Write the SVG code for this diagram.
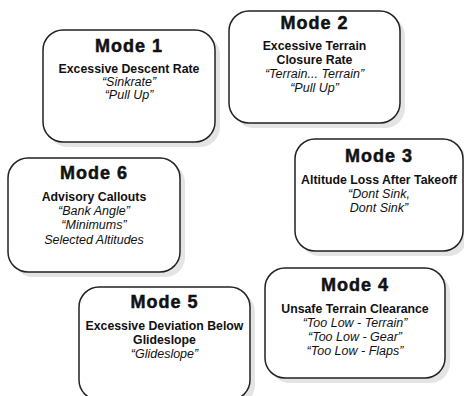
<svg xmlns="http://www.w3.org/2000/svg" width="464" height="396" viewBox="0 0 464 396">
<style>
.sh{fill:#e4e4e4;stroke:none}
.bx{fill:#fff;stroke:#222;stroke-width:1.5}
text{font-family:"Liberation Sans",Arial,sans-serif;text-anchor:middle;fill:#111}
.t{font-size:18px;font-weight:bold;letter-spacing:1px;stroke:#111;stroke-width:0.5}
.s{font-size:12.3px;font-weight:bold}
.i{font-size:12.5px;font-style:italic}
</style>
<rect width="464" height="396" fill="#fff"/>
<g id="connectors"/>
<g id="mode1">
<rect class="sh" x="48" y="35" width="172" height="112" rx="20"/>
<rect class="bx" x="43" y="30" width="172" height="112" rx="20"/>
<text class="t" x="129" y="52">Mode 1</text>
<text class="s" x="129" y="72.5">Excessive Descent Rate</text>
<text class="i" x="129" y="85.5">“Sinkrate”</text>
<text class="i" x="129" y="98.5">“Pull Up”</text>
</g>
<g id="mode2">
<rect class="sh" x="234" y="16" width="171" height="112" rx="20"/>
<rect class="bx" x="229" y="11" width="171" height="112" rx="20"/>
<text class="t" x="314.5" y="29">Mode 2</text>
<text class="s" x="314.5" y="50">Excessive Terrain</text>
<text class="s" x="314.5" y="64">Closure Rate</text>
<text class="i" x="314.5" y="78">“Terrain... Terrain”</text>
<text class="i" x="314.5" y="92">“Pull Up”</text>
</g>
<g id="mode3">
<rect class="sh" x="300" y="144" width="168" height="112" rx="20"/>
<rect class="bx" x="295" y="139" width="168" height="112" rx="20"/>
<text class="t" x="379" y="162">Mode 3</text>
<text class="s" x="379" y="184">Altitude Loss After Takeoff</text>
<text class="i" x="379" y="198">“Dont Sink,</text>
<text class="i" x="379" y="212">Dont Sink”</text>
</g>
<g id="mode6">
<rect class="sh" x="13" y="163" width="172" height="114" rx="20"/>
<rect class="bx" x="8" y="158" width="172" height="114" rx="20"/>
<text class="t" x="94" y="179">Mode 6</text>
<text class="s" x="94" y="201">Advisory Callouts</text>
<text class="i" x="94" y="215">“Bank Angle”</text>
<text class="i" x="94" y="229">“Minimums”</text>
<text class="i" x="94" y="244">Selected Altitudes</text>
</g>
<g id="mode5">
<rect class="sh" x="84" y="292" width="171" height="113" rx="20"/>
<rect class="bx" x="79" y="287" width="171" height="113" rx="20"/>
<text class="t" x="164.5" y="308">Mode 5</text>
<text class="s" x="164.5" y="330">Excessive Deviation Below</text>
<text class="s" x="164.5" y="344">Glideslope</text>
<text class="i" x="164.5" y="358">“Glideslope”</text>
</g>
<g id="mode4">
<rect class="sh" x="270" y="273" width="180" height="110" rx="20"/>
<rect class="bx" x="265" y="268" width="180" height="110" rx="20"/>
<text class="t" x="355" y="291">Mode 4</text>
<text class="s" x="355" y="313">Unsafe Terrain Clearance</text>
<text class="i" x="355" y="327">“Too Low - Terrain”</text>
<text class="i" x="355" y="341">“Too Low - Gear”</text>
<text class="i" x="355" y="355">“Too Low - Flaps”</text>
</g>
</svg>
